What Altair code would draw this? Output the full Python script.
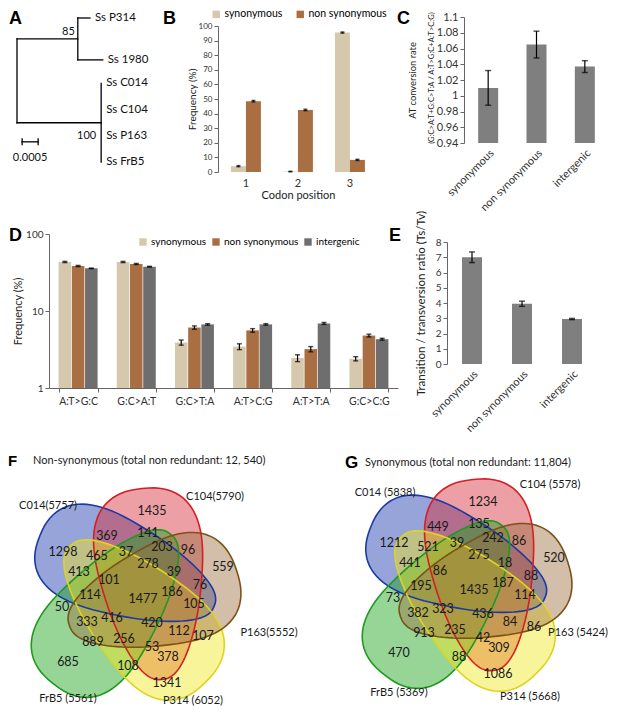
import math
import altair as alt
import pandas as pd

# ---------------- page geometry ----------------
OFF = 8                      # page margin
W, H = 601, 700              # whole chart (autosize none)
def X(v): return v - OFF     # reference px -> chart px
def Y(v): return v - OFF

FONT = "Lato"
BOLD = "Liberation Sans"

C_SYN, C_NON, C_INT, C_BAR = "#d6c8ad", "#a96f43", "#6e6e6e", "#7f7f7f"

# ---------------- data ----------------
# A: phylogeny (branch lengths in substitutions / site)
taxa = ["Ss P314", "Ss 1980", "Ss C014", "Ss C104", "Ss P163", "Ss FrB5"]
node85_depth = 0.0019
clade_c_depth = 0.00263
tip_depths = [0.00228, 0.00268, 0.00263, 0.00263, 0.00263, 0.00263]
bootstrap = ["85", "100"]
scale_len = 0.0005

# B: codon position
codon_pos = ["1", "2", "3"]
b_syn = [4.0, 0.3, 95.5]
b_syn_err = [0.4, 0.2, 0.4]
b_non = [48.5, 42.5, 8.3]
b_non_err = [0.5, 0.5, 0.4]

# C: AT conversion rate
classes = ["synonymous", "non synonymous", "intergenic"]
c_vals = [1.010, 1.065, 1.037]
c_err = [0.022, 0.017, 0.0075]
c_title1 = "AT conversion rate"
c_title2 = "(G:C>A:T+G:C>T:A / A:T>G:C+A:T>C:G)"

# D: mutation spectrum (%)
mut_types = ["A:T>G:C", "G:C>A:T", "G:C>T:A", "A:T>C:G", "A:T>T:A", "G:C>C:G"]
d_syn = [43.3, 43.3, 3.9, 3.45, 2.45, 2.4]
d_syn_err = [0.8, 0.8, 0.3, 0.3, 0.25, 0.15]
d_non = [38.4, 40.8, 6.1, 5.6, 3.2, 4.8]
d_non_err = [0.7, 0.7, 0.3, 0.3, 0.25, 0.2]
d_int = [35.8, 37.6, 6.7, 6.7, 6.9, 4.3]
d_int_err = [0.3, 0.4, 0.15, 0.15, 0.2, 0.12]

# E: Ts/Tv
e_vals = [7.0, 3.95, 2.95]
e_err = [0.35, 0.17, 0.04]

# F / G: five-set Venn counts (same region order in both)
f_counts = [1298, 369, 141, 1435, 37, 203, 96, 559, 465, 413, 278, 39, 76, 101, 114,
            1477, 186, 105, 50, 333, 416, 420, 112, 107, 889, 256, 53, 378, 685, 108, 1341]
g_counts = [1212, 449, 135, 1234, 39, 242, 86, 520, 521, 441, 275, 18, 88, 86, 195,
            1435, 187, 114, 73, 382, 323, 436, 84, 86, 913, 235, 42, 309, 470, 88, 1086]
f_names = ["C014(5757)", "C104(5790)", "P163(5552)", "FrB5 (5561)", "P314 (6052)"]
g_names = ["C014 (5838)", "C104 (5578)", "P163 (5424)", "FrB5 (5369)", "P314 (5668)"]
f_title = "Non-synonymous (total non redundant: 12, 540)"
g_title = "Synonymous (total non redundant: 11,804)"

# ---------------- layout (not data) ----------------
leaf_rows = [0, 1.6, 2.5, 3.5, 4.5, 5.5]
region_xy = [(63, 552), (107, 536), (148, 533), (152, 511), (126, 552), (162, 547), (188, 550),
             (223, 567), (97, 556), (79, 572), (148, 564), (174, 572), (200, 585), (109, 580),
             (90, 595), (143, 599), (172, 592), (194, 604), (62, 607), (87, 622), (112, 618),
             (152, 623), (179, 631), (203, 636), (93, 642), (124, 639), (152, 647), (168, 657),
             (68, 662), (128, 666), (167, 683)]
# blob-shaped sets: name, cx, cy, semi-length, half-width ratio, angle of broad end, fill, stroke
venn_sets = [
    ("C014", 127, 571, 94, 0.49, 202, "#1835aa", "#1c3aa5"),
    ("C104", 152, 584, 96, 0.52, 264, "#d52a35", "#d41f26"),
    ("FrB5", 112, 609, 95, 0.51, 128, "#18a218", "#1e9a1e"),
    ("P314", 138, 614, 96, 0.52, 45, "#efe71c", "#dcd520"),
    ("P163", 153, 598, 88, 0.56, 342, "#9b6f40", "#7b5217"),
]
f_name_xy = [(48, 506, "center"), (215, 497, "center"), (269, 633, "center"), (68, 699, "center"), (193, 701, "center")]
g_name_xy = [(54, 502, "center"), (219, 494, "center"), (277, 642, "right"), (68, 702, "center"), (199, 706, "center")]
G_SHIFT = (331, -9)


def blob_path(ratio, k=0.35, n=2.4, m=96):
    pts = []
    e = 2.0 / n
    for i in range(m):
        t = 2 * math.pi * i / m
        c, s = math.cos(t), math.sin(t)
        x = math.copysign(abs(c) ** e, c)
        y = ratio * math.copysign(abs(s) ** e, s) * (1 + k * x)
        pts.append(f"{x:.4f},{y:.4f}")
    return "M" + " L".join(pts) + " Z"


layers = []

# ---------------- A: tree ----------------
tree_x = alt.Scale(domain=[0, 0.003], range=[X(17), X(113)], nice=False, zero=False)
tree_y = alt.Scale(domain=[0, 5.5], range=[Y(18), Y(162)], nice=False, zero=False)
mid_p = (leaf_rows[0] + leaf_rows[1]) / 2
mid_c = (leaf_rows[2] + leaf_rows[5]) / 2
segs = [
    (0, 0, mid_p, mid_c),
    (0, node85_depth, mid_p, mid_p),
    (0, clade_c_depth, mid_c, mid_c),
    (node85_depth, node85_depth, leaf_rows[0], leaf_rows[1]),
    (node85_depth, tip_depths[0], leaf_rows[0], leaf_rows[0]),
    (node85_depth, tip_depths[1], leaf_rows[1], leaf_rows[1]),
    (clade_c_depth, clade_c_depth, leaf_rows[2], leaf_rows[5]),
    # scale bar + caps
    (0.00016, 0.00016 + scale_len, 4.73, 4.73),
    (0.00016, 0.00016, 4.62, 4.84),
    (0.00016 + scale_len, 0.00016 + scale_len, 4.62, 4.84),
]
seg_df = pd.DataFrame(segs, columns=["x", "x2", "y", "y2"])
tx = alt.X("x:Q", scale=tree_x, axis=None)
ty = alt.Y("y:Q", scale=tree_y, axis=None)
tree_lines = alt.Chart(seg_df).mark_rule(color="black", strokeWidth=1.3, strokeCap="square").encode(
    x=tx, x2="x2:Q", y=ty, y2="y2:Q")
leaf_df = pd.DataFrame({"x": tip_depths, "y": leaf_rows, "t": taxa})
leaf_txt = alt.Chart(leaf_df).mark_text(align="left", baseline="middle", dx=5, fontSize=11.5,
                                        font=FONT, color="#111").encode(x=tx, y=ty, text="t:N")
boot_df = pd.DataFrame({"x": [node85_depth], "y": [mid_p], "t": [bootstrap[0]]})
boot1 = alt.Chart(boot_df).mark_text(align="right", baseline="middle", dx=-3, dy=-7, fontSize=11,
                                     font=FONT, color="#111").encode(x=tx, y=ty, text="t:N")
boot2_df = pd.DataFrame({"x": [clade_c_depth], "y": [leaf_rows[4]], "t": [bootstrap[1]]})
boot2 = alt.Chart(boot2_df).mark_text(align="right", baseline="middle", dx=-5, fontSize=11,
                                      font=FONT, color="#111").encode(x=tx, y=ty, text="t:N")
sb_df = pd.DataFrame({"x": [0.00016 + scale_len / 2], "y": [4.73], "t": [f"{scale_len:.4f}"]})
sb_txt = alt.Chart(sb_df).mark_text(align="center", baseline="middle", dy=16, fontSize=11,
                                    font=FONT, color="#111").encode(x=tx, y=ty, text="t:N")
layers.append(alt.layer(tree_lines, leaf_txt, boot1, boot2, sb_txt))


def err_layers(df, xenc, yscale, yaxis, xoff=None, cap=6):
    enc = dict(x=xenc, y=alt.Y("lo:Q", scale=yscale, axis=yaxis), y2="hi:Q")
    if xoff is not None:
        enc["xOffset"] = xoff
    rule = alt.Chart(df).mark_rule(color="black", strokeWidth=1.2).encode(**enc)
    out = [rule]
    for f in ["lo", "hi"]:
        e = dict(x=xenc, y=alt.Y(f"{f}:Q", scale=yscale, axis=yaxis))
        if xoff is not None:
            e["xOffset"] = xoff
        out.append(alt.Chart(df).mark_tick(color="black", size=cap, thickness=1.4).encode(**e))
    return out


# ---------------- B ----------------
typesB = ["synonymous", "non synonymous"]
b_df = pd.DataFrame({"pos": codon_pos * 2, "type": [typesB[0]] * 3 + [typesB[1]] * 3,
                     "value": b_syn + b_non, "err": b_syn_err + b_non_err})
b_df["lo"] = b_df["value"] - b_df["err"]
b_df["hi"] = b_df["value"] + b_df["err"]
bx = alt.X("pos:N", sort=codon_pos,
           scale=alt.Scale(domain=codon_pos, range=[X(220), X(376)], paddingInner=0.42, paddingOuter=0.21),
           axis=alt.Axis(orient="bottom", offset=Y(172) - H, domain=False, ticks=False, labelAngle=0,
                         labelFontSize=11, labelPadding=5, title="Codon position", titleFontSize=11,
                         titlePadding=1))
bxo = alt.XOffset("type:N", sort=typesB, scale=alt.Scale(domain=typesB, range=[0, 30], paddingInner=0))
bys = alt.Scale(domain=[0, 100], range=[Y(172), Y(26)], nice=False)
bya = alt.Axis(orient="left", offset=-X(218), values=list(range(0, 101, 10)), labelFontSize=8,
               tickSize=4, title="Frequency (%)", titleFontSize=10, titlePadding=1, labelPadding=2)
b_bars = alt.Chart(b_df).mark_bar().encode(
    x=bx, xOffset=bxo, y=alt.Y("value:Q", scale=bys, axis=bya),
    color=alt.Color("type:N", sort=typesB, scale=alt.Scale(domain=typesB, range=[C_SYN, C_NON]),
                    legend=alt.Legend(orient="none", legendX=X(211), legendY=Y(9), direction="horizontal",
                                      title=None, symbolType="square", symbolSize=55, labelFontSize=10.5,
                                      labelFont=FONT, columnPadding=12, symbolStrokeWidth=0, labelOffset=3)))
layers.append(alt.layer(b_bars, *err_layers(b_df, bx, bys, bya, bxo, cap=4)))

# ---------------- C ----------------
c_df = pd.DataFrame({"cls": classes, "v": c_vals, "err": c_err})
c_df["lo"] = c_df["v"] - c_df["err"]
c_df["hi"] = c_df["v"] + c_df["err"]
cx = alt.X("cls:N", sort=classes,
           scale=alt.Scale(domain=classes, range=[X(464), X(609)], paddingInner=0.586, paddingOuter=0.293),
           axis=alt.Axis(orient="bottom", offset=Y(143) - H, domain=False, ticks=False, labelAngle=-45,
                         labelFontSize=11, labelPadding=4, title=None))
cys = alt.Scale(domain=[0.94, 1.1], range=[Y(143), Y(17)], nice=False, zero=False)
cya = alt.Axis(orient="left", offset=-X(464), values=[0.94, 0.96, 0.98, 1.0, 1.02, 1.04, 1.06, 1.08, 1.1],
               format="~g", labelFontSize=11, tickSize=4, labelPadding=2,
               title=c_title1, titleFontSize=9.4, titlePadding=19)
c_bars = alt.Chart(c_df).mark_bar(color=C_BAR).encode(x=cx, y=alt.Y("v:Q", scale=cys, axis=cya),
                                                      y2=alt.datum(0.94))
c_t2 = alt.Chart(pd.DataFrame({"t": [c_title2], "x": [X(432)], "y": [Y(78)]})).mark_text(
    angle=270, align="center", baseline="middle", font=FONT, fontSize=7.6, color="#222").encode(
    x=alt.X("x:Q", scale=None), y=alt.Y("y:Q", scale=None), text="t:N")
layers.append(alt.layer(c_bars, *err_layers(c_df, cx, cys, cya, cap=6)))
layers.append(c_t2)

# ---------------- D ----------------
typesD = ["synonymous", "non synonymous", "intergenic"]
d_df = pd.DataFrame({"mut": mut_types * 3, "type": sum([[t] * 6 for t in typesD], []),
                     "value": d_syn + d_non + d_int, "err": d_syn_err + d_non_err + d_int_err})
d_df["lo"] = d_df["value"] - d_df["err"]
d_df["hi"] = d_df["value"] + d_df["err"]
dx_ = alt.X("mut:N", sort=mut_types,
            scale=alt.Scale(domain=mut_types, range=[X(49), X(398)], paddingInner=0.33, paddingOuter=0.165),
            axis=alt.Axis(orient="bottom", offset=Y(388) - H, domain=True, ticks=True, tickBand="extent",
                          tickSize=4, labelAngle=0, labelFontSize=10.5, labelPadding=4, title=None))
dxo = alt.XOffset("type:N", sort=typesD, scale=alt.Scale(domain=typesD, range=[0, 39], paddingInner=0.05))
dys = alt.Scale(type="log", domain=[1, 100], range=[Y(388), Y(234)], nice=False)
dya = alt.Axis(orient="left", offset=-X(49), values=[1, 10, 100], format="d", labelFontSize=10,
               tickSize=4, labelPadding=2, title="Frequency (%)", titleFontSize=11, titlePadding=2)
d_bars = alt.Chart(d_df).mark_bar().encode(
    x=dx_, xOffset=dxo, y=alt.Y("value:Q", scale=dys, axis=dya), y2=alt.datum(1),
    color=alt.Color("type:N", sort=typesD, scale=alt.Scale(domain=typesD, range=[C_SYN, C_NON, C_INT]),
                    legend=alt.Legend(orient="none", legendX=X(138), legendY=Y(237), direction="horizontal",
                                      title=None, symbolType="square", symbolSize=55, labelFontSize=10,
                                      labelFont=FONT, columnPadding=4, symbolStrokeWidth=0, labelOffset=3)))
layers.append(alt.layer(d_bars, *err_layers(d_df, dx_, dys, dya, dxo, cap=5)))

# ---------------- E ----------------
e_df = pd.DataFrame({"cls": classes, "v": e_vals, "err": e_err})
e_df["lo"] = e_df["v"] - e_df["err"]
e_df["hi"] = e_df["v"] + e_df["err"]
ex = alt.X("cls:N", sort=classes,
           scale=alt.Scale(domain=classes, range=[X(447), X(597)], paddingInner=0.6, paddingOuter=0.3),
           axis=alt.Axis(orient="bottom", offset=Y(364) - H, domain=False, ticks=False, labelAngle=-45,
                         labelFontSize=11, labelPadding=4, title=None))
eys = alt.Scale(domain=[0, 8], range=[Y(364), Y(242)], nice=False)
eya = alt.Axis(orient="left", offset=-X(447), values=list(range(0, 9)), labelFontSize=10, tickSize=4,
               labelPadding=2, title="Transition / transversion ratio (Ts/Tv)", titleFontSize=11.5,
               titlePadding=9)
e_bars = alt.Chart(e_df).mark_bar(color=C_BAR).encode(x=ex, y=alt.Y("v:Q", scale=eys, axis=eya))
layers.append(alt.layer(e_bars, *err_layers(e_df, ex, eys, eya, cap=6)))


# ---------------- F / G: Venn ----------------
def venn(counts, names, name_xy, shift):
    vx = alt.Scale(domain=[0, 617], range=[X(shift[0]), X(617 + shift[0])], nice=False, zero=False)
    vy = alt.Scale(domain=[0, 716], range=[Y(shift[1]), Y(716 + shift[1])], nice=False, zero=False)
    sx = alt.X("x:Q", scale=vx, axis=None)
    sy = alt.Y("y:Q", scale=vy, axis=None)
    shp = pd.DataFrame([{"set": s, "x": cx_, "y": cy_, "size": (2 * a) ** 2, "angle": ang,
                         "path": blob_path(r), "fill": fc, "stroke": sc, "order": i}
                        for i, (s, cx_, cy_, a, r, ang, fc, sc) in enumerate(venn_sets)])
    penc = dict(x=sx, y=sy, shape=alt.Shape("path:N", scale=None), size=alt.Size("size:Q", scale=None),
                angle=alt.Angle("angle:Q", scale=None), order=alt.Order("order:Q"))
    fills = alt.Chart(shp).mark_point(filled=True, opacity=1, fillOpacity=0.45, strokeWidth=0).encode(
        fill=alt.Fill("fill:N", scale=None), **penc)
    strokes = alt.Chart(shp).mark_point(filled=False, opacity=1, strokeWidth=1.6).encode(
        stroke=alt.Stroke("stroke:N", scale=None), **penc)
    reg = pd.DataFrame({"x": [p[0] for p in region_xy], "y": [p[1] for p in region_xy],
                        "t": [str(c) for c in counts]})
    nums = alt.Chart(reg).mark_text(fontSize=12.5, font=FONT, color="#1a1a1a", baseline="middle").encode(
        x=sx, y=sy, text="t:N")
    nm = pd.DataFrame({"x": [p[0] for p in name_xy], "y": [p[1] for p in name_xy],
                       "al": [p[2] for p in name_xy], "t": names})
    outs = [fills, strokes, nums]
    for al in ["center", "right"]:
        sub = nm[nm["al"] == al]
        if len(sub):
            outs.append(alt.Chart(sub).mark_text(fontSize=11, font=FONT, color="#1a1a1a", align=al,
                                                 baseline="middle").encode(x=sx, y=sy, text="t:N"))
    return alt.layer(*outs)


layers.append(venn(f_counts, f_names, f_name_xy, (0, 0)))
layers.append(venn(g_counts, g_names, g_name_xy, G_SHIFT))

# ---------------- annotations ----------------
letters = pd.DataFrame({"t": ["A", "B", "C", "D", "E", "F", "G"],
                        "x": [X(9), X(163), X(397), X(9), X(389), X(8), X(345)],
                        "y": [Y(19), Y(19), Y(19), Y(236), Y(236), Y(461), Y(463)],
                        "fs": [18, 18, 18, 18, 18, 15, 17]})
let_layer = alt.Chart(letters).mark_text(align="left", baseline="middle", font=BOLD, fontWeight="bold",
                                         color="black").encode(
    x=alt.X("x:Q", scale=None), y=alt.Y("y:Q", scale=None), text="t:N", size=alt.Size("fs:Q", scale=None))
titles = pd.DataFrame({"t": [f_title, g_title], "x": [X(33), X(365)], "y": [Y(461), Y(463)]})
tit_layer = alt.Chart(titles).mark_text(align="left", baseline="middle", font=FONT, fontSize=11,
                                        color="#1a1a1a").encode(
    x=alt.X("x:Q", scale=None), y=alt.Y("y:Q", scale=None), text="t:N")
layers += [let_layer, tit_layer]

chart = alt.layer(*layers).resolve_scale(
    x="independent", y="independent", color="independent", xOffset="independent"
).resolve_axis(x="independent", y="independent").resolve_legend(color="independent").properties(
    width=W, height=H, autosize=alt.AutoSizeParams(type="none"), padding=0
).configure_view(stroke=None).configure_axis(
    grid=False, labelFont=FONT, titleFont=FONT, titleFontWeight="normal", labelColor="#333",
    titleColor="#222", domainColor="#666", tickColor="#666"
)

chart.save("out.html", embed_options={"renderer": "svg", "actions": False})
